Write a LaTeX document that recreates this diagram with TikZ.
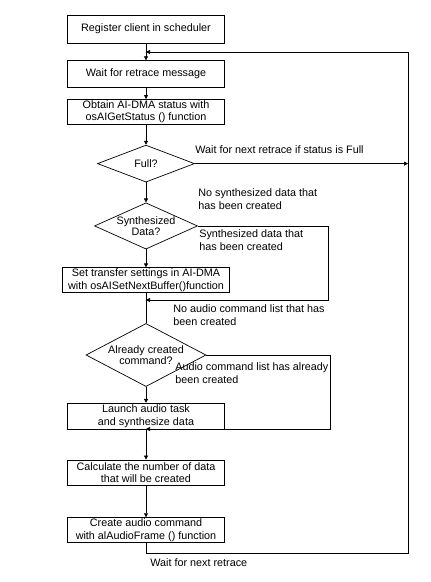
\documentclass[tikz,border=0pt]{standalone}
\usepackage{fontspec}
\setmainfont{Liberation Sans}
\usetikzlibrary{shapes.geometric, arrows.meta, positioning}

\begin{document}
\begin{tikzpicture}[x=1pt, y=-1pt, line width=0.7pt,
  box/.style={rectangle, draw, minimum width=157pt, minimum height=26pt,
              inner sep=1pt, align=center, font=\fontsize{10.8}{12.5}\selectfont},
  decision/.style={diamond, draw, inner sep=-8pt, align=center,
              font=\fontsize{10.8}{11.5}\selectfont},
  note/.style={anchor=west, align=left, inner sep=0pt,
              font=\fontsize{10.8}{12.8}\selectfont},
  arrow/.style={-{Triangle[length=4pt, width=4pt]}}
]
\useasboundingbox (0,0) rectangle (431,582);

\node[box, minimum height=28pt] (register) at (146,29) {Register client in scheduler};
\node[box, below=17pt of register, minimum height=27pt] (wait) {Wait for retrace message};
\node[box, below=11pt of wait, minimum height=25pt]
    (obtain) {Obtain AI-DMA status with\\osAIGetStatus () function};
\node[decision, below=20pt of obtain, minimum width=97pt, minimum height=37pt]
    (full) {Full?};
\node[decision, below=20pt of full, minimum width=103pt, minimum height=45pt]
    (synth) {Synthesized\\Data?};
\node[box, below=18pt of synth, minimum width=167pt, minimum height=25pt]
    (set) {Set transfer settings in AI-DMA\\with osAISetNextBuffer()function};
\node[decision, below=30pt of set, minimum width=120pt, minimum height=54pt]
    (already) {Already created\\command?};
\node[box, below=16pt of already] (launch) {Launch audio task\\and synthesize data};
\node[box, below=30pt of launch, minimum height=25pt]
    (calc) {Calculate the number of data\\that will be created};
\node[box, below=32pt of calc, minimum height=25pt]
    (create) {Create audio command\\with alAudioFrame () function};

% return points on the right and on the main line
\coordinate (retrace) at (146,52);
\coordinate (back) at (408,553);
\coordinate (synthback) at (328,300);
\coordinate (cmdback) at (330,429);

\draw[arrow] (register) -- (wait);
\draw[arrow] (wait) -- (obtain);
\draw[arrow] (obtain) -- (full);
\draw[arrow] (full) -- (synth);
\draw[arrow] (synth) -- (set);
\draw (set) -- (already);
\draw[arrow] (already) -- (launch);
\draw[arrow] (launch) -- (calc);
\draw[arrow] (calc) -- (create);

\draw[arrow] (create.south) |- (back) |- (retrace);
\draw[arrow] (full.east) -- (full.east -| back);
\draw[arrow] (synth.east) -| (synthback) -- (synthback -| set);
\draw[arrow] (already.east) -| (cmdback) -- (cmdback -| launch);

\node[note] (fullnote) at (195,150) {Wait for next retrace if status is Full};
\node[note] (nosynth) at (198,199) {No synthesized data that\\has been created};
\node[note] (synthok) at (199,240) {Synthesized data that\\has been created};
\node[note] (nocmd) at (173,315) {No audio command list that has\\been created};
\node[note] (cmdok) at (175,373) {Audio command list has already\\been created};
\node[note] (nextnote) at (150,563) {Wait for next retrace};
\end{tikzpicture}
\end{document}
